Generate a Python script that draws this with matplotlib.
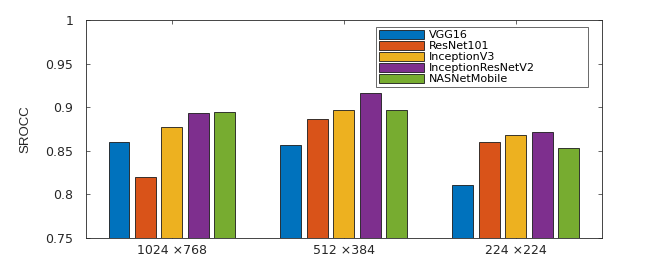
import matplotlib
matplotlib.use("Agg")
import numpy as np
import matplotlib.pyplot as plt

plt.rcParams['font.family'] = ['DejaVu Sans']

# SROCC per resolution and network
groups = ['1024 ×768', '512 ×384', '224 ×224']
models = ['VGG16', 'ResNet101', 'InceptionV3', 'InceptionResNetV2', 'NASNetMobile']
vgg16 = [0.860, 0.857, 0.811]
resnet101 = [0.820, 0.886, 0.860]
inception_v3 = [0.877, 0.897, 0.868]
inception_resnet_v2 = [0.893, 0.916, 0.872]
nasnet_mobile = [0.894, 0.897, 0.853]
series = [vgg16, resnet101, inception_v3, inception_resnet_v2, nasnet_mobile]
colors = ['#0072BD', '#D95319', '#EDB120', '#7E2F8E', '#77AC30']

axcol = '#262626'
fig = plt.figure(figsize=(6.64, 2.68), dpi=100)
ax = fig.add_axes([0.1295, 0.112, 0.777, 0.813])

x = np.arange(1, len(groups) + 1)
step = 0.154
width = 0.122
for i, (vals, c, name) in enumerate(zip(series, colors, models)):
    ax.bar(x + (i - 2) * step, vals, width, color=c, edgecolor='#1a1a1a',
           linewidth=0.6, label=name, zorder=2)

ax.set_xlim(0.5, 3.5)
ax.set_ylim(0.75, 1.0)
ax.set_xticks(x)
ax.set_xticklabels(groups)
ax.set_yticks([0.75, 0.8, 0.85, 0.9, 0.95, 1.0])
ax.set_yticklabels(['0.75', '0.8', '0.85', '0.9', '0.95', '1'])
ax.tick_params(direction='in', top=True, right=True, length=3, width=0.5,
               colors=axcol, labelsize=9, labelcolor=axcol)
ax.tick_params(axis='x', pad=4)
ax.tick_params(axis='y', pad=9)
for s in ax.spines.values():
    s.set_color(axcol)
    s.set_linewidth(0.6)
ax.set_ylabel('SROCC', fontsize=9.5, color=axcol, labelpad=10,
              family='Liberation Sans')

leg = ax.legend(loc='upper left', bbox_to_anchor=(0.562, 0.968, 0.411, 0.0),
                mode='expand', fontsize=8, frameon=True, fancybox=False,
                handlelength=4.1, handleheight=0.9, handletextpad=0.4,
                labelspacing=0.05, borderpad=0.25, borderaxespad=0)
leg.get_frame().set_edgecolor(axcol)
leg.get_frame().set_linewidth(0.6)

fig.savefig('out.png', dpi=100)
